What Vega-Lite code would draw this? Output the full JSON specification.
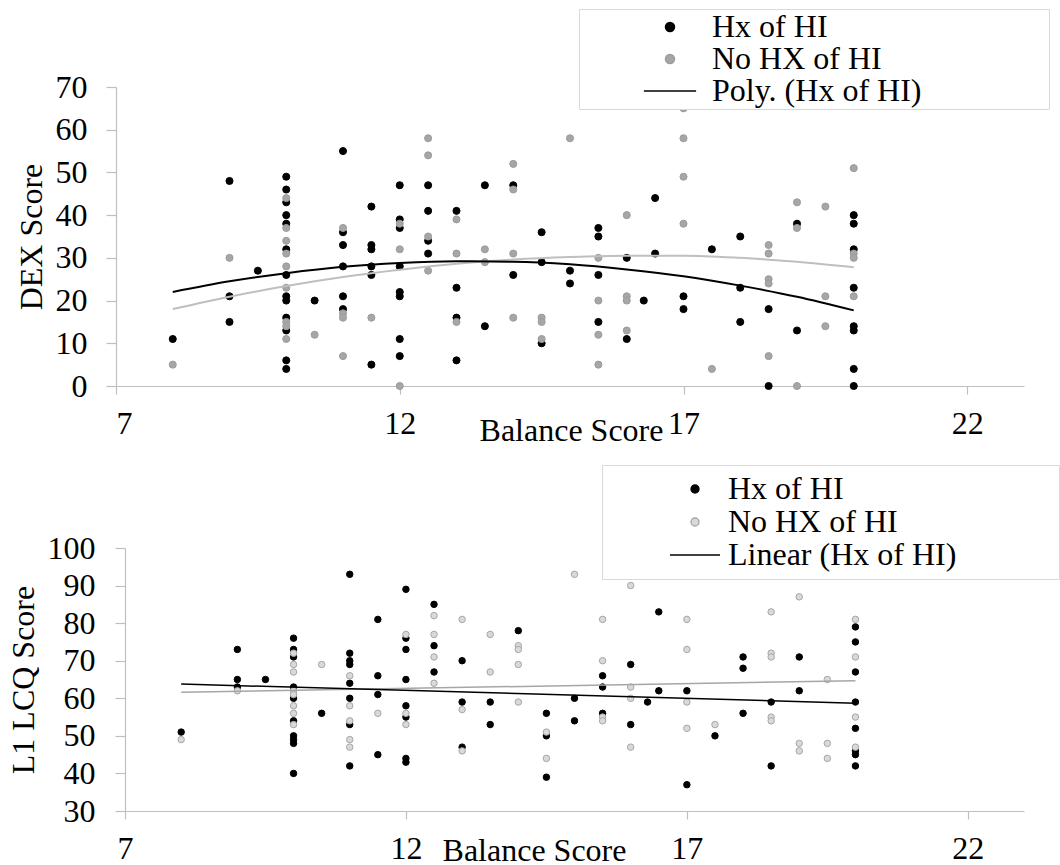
{
  "$schema": "https://vega.github.io/schema/vega-lite/v6.json",
  "background": "white",
  "padding": {"left": 7, "top": 8, "right": 0, "bottom": 0},
  "spacing": 18,
  "config": {
    "view": {"stroke": null},
    "font": "Liberation Serif",
    "axis": {
      "labelFont": "Liberation Serif", "titleFont": "Liberation Serif",
      "labelFontSize": 32, "titleFontSize": 32, "titleFontWeight": "normal",
      "labelColor": "#000000", "titleColor": "#000000",
      "domainColor": "#bfbfbf", "tickColor": "#bfbfbf", "domainWidth": 1.2, "tickWidth": 1.2,
      "grid": false
    },
    "legend": {"labelFont": "Liberation Serif", "labelFontSize": 32, "labelColor": "#000000", "labelLimit": 600}
  },
  "resolve": {
    "scale": {"x": "independent", "y": "independent", "color": "independent", "shape": "independent", "stroke": "independent"},
    "legend": {"color": "independent", "shape": "independent", "stroke": "independent"}
  },
  "datasets": {
    "dex": [
      {"x": 8, "y": 11, "g": "Hx of HI"},
      {"x": 9, "y": 48, "g": "Hx of HI"}, {"x": 9, "y": 21, "g": "Hx of HI"}, {"x": 9, "y": 15, "g": "Hx of HI"},
      {"x": 9.5, "y": 27, "g": "Hx of HI"},
      {"x": 10, "y": 49, "g": "Hx of HI"}, {"x": 10, "y": 46, "g": "Hx of HI"}, {"x": 10, "y": 43, "g": "Hx of HI"}, {"x": 10, "y": 40, "g": "Hx of HI"}, {"x": 10, "y": 38, "g": "Hx of HI"}, {"x": 10, "y": 32, "g": "Hx of HI"}, {"x": 10, "y": 26, "g": "Hx of HI"}, {"x": 10, "y": 21, "g": "Hx of HI"}, {"x": 10, "y": 20, "g": "Hx of HI"}, {"x": 10, "y": 16, "g": "Hx of HI"}, {"x": 10, "y": 13, "g": "Hx of HI"}, {"x": 10, "y": 6, "g": "Hx of HI"}, {"x": 10, "y": 4, "g": "Hx of HI"},
      {"x": 10.5, "y": 20, "g": "Hx of HI"},
      {"x": 11, "y": 55, "g": "Hx of HI"}, {"x": 11, "y": 36, "g": "Hx of HI"}, {"x": 11, "y": 33, "g": "Hx of HI"}, {"x": 11, "y": 28, "g": "Hx of HI"}, {"x": 11, "y": 21, "g": "Hx of HI"}, {"x": 11, "y": 18, "g": "Hx of HI"},
      {"x": 11.5, "y": 42, "g": "Hx of HI"}, {"x": 11.5, "y": 33, "g": "Hx of HI"}, {"x": 11.5, "y": 32, "g": "Hx of HI"}, {"x": 11.5, "y": 28, "g": "Hx of HI"}, {"x": 11.5, "y": 26, "g": "Hx of HI"}, {"x": 11.5, "y": 5, "g": "Hx of HI"},
      {"x": 12, "y": 47, "g": "Hx of HI"}, {"x": 12, "y": 39, "g": "Hx of HI"}, {"x": 12, "y": 37, "g": "Hx of HI"}, {"x": 12, "y": 28, "g": "Hx of HI"}, {"x": 12, "y": 22, "g": "Hx of HI"}, {"x": 12, "y": 21, "g": "Hx of HI"}, {"x": 12, "y": 11, "g": "Hx of HI"}, {"x": 12, "y": 7, "g": "Hx of HI"},
      {"x": 12.5, "y": 47, "g": "Hx of HI"}, {"x": 12.5, "y": 41, "g": "Hx of HI"}, {"x": 12.5, "y": 34, "g": "Hx of HI"}, {"x": 12.5, "y": 31, "g": "Hx of HI"},
      {"x": 13, "y": 41, "g": "Hx of HI"}, {"x": 13, "y": 23, "g": "Hx of HI"}, {"x": 13, "y": 16, "g": "Hx of HI"}, {"x": 13, "y": 6, "g": "Hx of HI"},
      {"x": 13.5, "y": 47, "g": "Hx of HI"}, {"x": 13.5, "y": 14, "g": "Hx of HI"},
      {"x": 14, "y": 47, "g": "Hx of HI"}, {"x": 14, "y": 26, "g": "Hx of HI"},
      {"x": 14.5, "y": 36, "g": "Hx of HI"}, {"x": 14.5, "y": 29, "g": "Hx of HI"}, {"x": 14.5, "y": 10, "g": "Hx of HI"},
      {"x": 15, "y": 27, "g": "Hx of HI"}, {"x": 15, "y": 24, "g": "Hx of HI"},
      {"x": 15.5, "y": 37, "g": "Hx of HI"}, {"x": 15.5, "y": 35, "g": "Hx of HI"}, {"x": 15.5, "y": 26, "g": "Hx of HI"}, {"x": 15.5, "y": 15, "g": "Hx of HI"},
      {"x": 16, "y": 30, "g": "Hx of HI"}, {"x": 16, "y": 11, "g": "Hx of HI"},
      {"x": 16.3, "y": 20, "g": "Hx of HI"},
      {"x": 16.5, "y": 44, "g": "Hx of HI"}, {"x": 16.5, "y": 31, "g": "Hx of HI"},
      {"x": 17, "y": 21, "g": "Hx of HI"}, {"x": 17, "y": 18, "g": "Hx of HI"},
      {"x": 17.5, "y": 32, "g": "Hx of HI"},
      {"x": 18, "y": 35, "g": "Hx of HI"}, {"x": 18, "y": 23, "g": "Hx of HI"}, {"x": 18, "y": 15, "g": "Hx of HI"},
      {"x": 18.5, "y": 18, "g": "Hx of HI"}, {"x": 18.5, "y": 0, "g": "Hx of HI"},
      {"x": 19, "y": 38, "g": "Hx of HI"}, {"x": 19, "y": 13, "g": "Hx of HI"},
      {"x": 20, "y": 40, "g": "Hx of HI"}, {"x": 20, "y": 38, "g": "Hx of HI"}, {"x": 20, "y": 32, "g": "Hx of HI"}, {"x": 20, "y": 23, "g": "Hx of HI"}, {"x": 20, "y": 14, "g": "Hx of HI"}, {"x": 20, "y": 13, "g": "Hx of HI"}, {"x": 20, "y": 4, "g": "Hx of HI"}, {"x": 20, "y": 0, "g": "Hx of HI"},
      {"x": 8, "y": 5, "g": "No HX of HI"},
      {"x": 9, "y": 30, "g": "No HX of HI"},
      {"x": 10, "y": 44, "g": "No HX of HI"}, {"x": 10, "y": 37, "g": "No HX of HI"}, {"x": 10, "y": 34, "g": "No HX of HI"}, {"x": 10, "y": 31, "g": "No HX of HI"}, {"x": 10, "y": 28, "g": "No HX of HI"}, {"x": 10, "y": 23, "g": "No HX of HI"}, {"x": 10, "y": 15, "g": "No HX of HI"}, {"x": 10, "y": 14, "g": "No HX of HI"}, {"x": 10, "y": 11, "g": "No HX of HI"},
      {"x": 10.5, "y": 12, "g": "No HX of HI"},
      {"x": 11, "y": 37, "g": "No HX of HI"}, {"x": 11, "y": 17, "g": "No HX of HI"}, {"x": 11, "y": 16, "g": "No HX of HI"}, {"x": 11, "y": 7, "g": "No HX of HI"},
      {"x": 11.5, "y": 16, "g": "No HX of HI"},
      {"x": 12, "y": 38, "g": "No HX of HI"}, {"x": 12, "y": 32, "g": "No HX of HI"}, {"x": 12, "y": 0, "g": "No HX of HI"},
      {"x": 12.5, "y": 58, "g": "No HX of HI"}, {"x": 12.5, "y": 54, "g": "No HX of HI"}, {"x": 12.5, "y": 35, "g": "No HX of HI"}, {"x": 12.5, "y": 27, "g": "No HX of HI"},
      {"x": 13, "y": 39, "g": "No HX of HI"}, {"x": 13, "y": 31, "g": "No HX of HI"}, {"x": 13, "y": 15, "g": "No HX of HI"},
      {"x": 13.5, "y": 32, "g": "No HX of HI"}, {"x": 13.5, "y": 29, "g": "No HX of HI"},
      {"x": 14, "y": 52, "g": "No HX of HI"}, {"x": 14, "y": 46, "g": "No HX of HI"}, {"x": 14, "y": 31, "g": "No HX of HI"}, {"x": 14, "y": 16, "g": "No HX of HI"},
      {"x": 14.5, "y": 16, "g": "No HX of HI"}, {"x": 14.5, "y": 15, "g": "No HX of HI"}, {"x": 14.5, "y": 11, "g": "No HX of HI"},
      {"x": 15, "y": 58, "g": "No HX of HI"},
      {"x": 15.5, "y": 30, "g": "No HX of HI"}, {"x": 15.5, "y": 20, "g": "No HX of HI"}, {"x": 15.5, "y": 12, "g": "No HX of HI"}, {"x": 15.5, "y": 5, "g": "No HX of HI"},
      {"x": 16, "y": 40, "g": "No HX of HI"}, {"x": 16, "y": 21, "g": "No HX of HI"}, {"x": 16, "y": 20, "g": "No HX of HI"}, {"x": 16, "y": 13, "g": "No HX of HI"},
      {"x": 17, "y": 65, "g": "No HX of HI"}, {"x": 17, "y": 58, "g": "No HX of HI"}, {"x": 17, "y": 49, "g": "No HX of HI"}, {"x": 17, "y": 38, "g": "No HX of HI"},
      {"x": 17.5, "y": 4, "g": "No HX of HI"},
      {"x": 18.5, "y": 33, "g": "No HX of HI"}, {"x": 18.5, "y": 31, "g": "No HX of HI"}, {"x": 18.5, "y": 25, "g": "No HX of HI"}, {"x": 18.5, "y": 24, "g": "No HX of HI"}, {"x": 18.5, "y": 7, "g": "No HX of HI"},
      {"x": 19, "y": 43, "g": "No HX of HI"}, {"x": 19, "y": 37, "g": "No HX of HI"}, {"x": 19, "y": 0, "g": "No HX of HI"},
      {"x": 19.5, "y": 42, "g": "No HX of HI"}, {"x": 19.5, "y": 21, "g": "No HX of HI"}, {"x": 19.5, "y": 14, "g": "No HX of HI"},
      {"x": 20, "y": 51, "g": "No HX of HI"}, {"x": 20, "y": 31, "g": "No HX of HI"}, {"x": 20, "y": 30, "g": "No HX of HI"}, {"x": 20, "y": 21, "g": "No HX of HI"}
    ],
    "dexfit": [
      {"x": 8, "y": 22.0, "s": "Hx"}, {"x": 9, "y": 24.5, "s": "Hx"}, {"x": 10, "y": 26.4, "s": "Hx"}, {"x": 11, "y": 27.9, "s": "Hx"}, {"x": 12, "y": 28.8, "s": "Hx"}, {"x": 13, "y": 29.2, "s": "Hx"}, {"x": 14, "y": 29.1, "s": "Hx"}, {"x": 15, "y": 28.5, "s": "Hx"}, {"x": 16, "y": 27.3, "s": "Hx"}, {"x": 17, "y": 25.7, "s": "Hx"}, {"x": 18, "y": 23.5, "s": "Hx"}, {"x": 19, "y": 20.9, "s": "Hx"}, {"x": 20, "y": 17.7, "s": "Hx"},
      {"x": 8, "y": 18.0, "s": "No"}, {"x": 9, "y": 20.9, "s": "No"}, {"x": 10, "y": 23.4, "s": "No"}, {"x": 11, "y": 25.5, "s": "No"}, {"x": 12, "y": 27.2, "s": "No"}, {"x": 13, "y": 28.6, "s": "No"}, {"x": 14, "y": 29.6, "s": "No"}, {"x": 15, "y": 30.2, "s": "No"}, {"x": 16, "y": 30.5, "s": "No"}, {"x": 17, "y": 30.5, "s": "No"}, {"x": 18, "y": 30.0, "s": "No"}, {"x": 19, "y": 29.1, "s": "No"}, {"x": 20, "y": 27.8, "s": "No"}
    ],
    "lcq": [
      {"x": 8, "y": 51, "g": "Hx of HI"},
      {"x": 9, "y": 73, "g": "Hx of HI"}, {"x": 9, "y": 65, "g": "Hx of HI"}, {"x": 9, "y": 63, "g": "Hx of HI"},
      {"x": 9.5, "y": 65, "g": "Hx of HI"},
      {"x": 10, "y": 76, "g": "Hx of HI"}, {"x": 10, "y": 73, "g": "Hx of HI"}, {"x": 10, "y": 71, "g": "Hx of HI"}, {"x": 10, "y": 63, "g": "Hx of HI"}, {"x": 10, "y": 60, "g": "Hx of HI"}, {"x": 10, "y": 54, "g": "Hx of HI"}, {"x": 10, "y": 50, "g": "Hx of HI"}, {"x": 10, "y": 49, "g": "Hx of HI"}, {"x": 10, "y": 48, "g": "Hx of HI"}, {"x": 10, "y": 40, "g": "Hx of HI"},
      {"x": 10.5, "y": 56, "g": "Hx of HI"},
      {"x": 11, "y": 93, "g": "Hx of HI"}, {"x": 11, "y": 72, "g": "Hx of HI"}, {"x": 11, "y": 70, "g": "Hx of HI"}, {"x": 11, "y": 69, "g": "Hx of HI"}, {"x": 11, "y": 64, "g": "Hx of HI"}, {"x": 11, "y": 60, "g": "Hx of HI"}, {"x": 11, "y": 53, "g": "Hx of HI"}, {"x": 11, "y": 42, "g": "Hx of HI"},
      {"x": 11.5, "y": 81, "g": "Hx of HI"}, {"x": 11.5, "y": 66, "g": "Hx of HI"}, {"x": 11.5, "y": 61, "g": "Hx of HI"}, {"x": 11.5, "y": 45, "g": "Hx of HI"},
      {"x": 12, "y": 89, "g": "Hx of HI"}, {"x": 12, "y": 76, "g": "Hx of HI"}, {"x": 12, "y": 73, "g": "Hx of HI"}, {"x": 12, "y": 65, "g": "Hx of HI"}, {"x": 12, "y": 58, "g": "Hx of HI"}, {"x": 12, "y": 55, "g": "Hx of HI"}, {"x": 12, "y": 44, "g": "Hx of HI"}, {"x": 12, "y": 43, "g": "Hx of HI"},
      {"x": 12.5, "y": 85, "g": "Hx of HI"}, {"x": 12.5, "y": 74, "g": "Hx of HI"}, {"x": 12.5, "y": 67, "g": "Hx of HI"},
      {"x": 13, "y": 70, "g": "Hx of HI"}, {"x": 13, "y": 59, "g": "Hx of HI"}, {"x": 13, "y": 47, "g": "Hx of HI"},
      {"x": 13.5, "y": 59, "g": "Hx of HI"}, {"x": 13.5, "y": 53, "g": "Hx of HI"},
      {"x": 14, "y": 78, "g": "Hx of HI"},
      {"x": 14.5, "y": 56, "g": "Hx of HI"}, {"x": 14.5, "y": 50, "g": "Hx of HI"}, {"x": 14.5, "y": 39, "g": "Hx of HI"},
      {"x": 15, "y": 60, "g": "Hx of HI"}, {"x": 15, "y": 54, "g": "Hx of HI"},
      {"x": 15.5, "y": 66, "g": "Hx of HI"}, {"x": 15.5, "y": 63, "g": "Hx of HI"}, {"x": 15.5, "y": 56, "g": "Hx of HI"},
      {"x": 16, "y": 69, "g": "Hx of HI"}, {"x": 16, "y": 53, "g": "Hx of HI"},
      {"x": 16.3, "y": 59, "g": "Hx of HI"},
      {"x": 16.5, "y": 83, "g": "Hx of HI"}, {"x": 16.5, "y": 62, "g": "Hx of HI"},
      {"x": 17, "y": 62, "g": "Hx of HI"}, {"x": 17, "y": 37, "g": "Hx of HI"},
      {"x": 17.5, "y": 50, "g": "Hx of HI"},
      {"x": 18, "y": 71, "g": "Hx of HI"}, {"x": 18, "y": 68, "g": "Hx of HI"}, {"x": 18, "y": 56, "g": "Hx of HI"},
      {"x": 18.5, "y": 59, "g": "Hx of HI"}, {"x": 18.5, "y": 42, "g": "Hx of HI"},
      {"x": 19, "y": 71, "g": "Hx of HI"}, {"x": 19, "y": 62, "g": "Hx of HI"},
      {"x": 20, "y": 79, "g": "Hx of HI"}, {"x": 20, "y": 75, "g": "Hx of HI"}, {"x": 20, "y": 67, "g": "Hx of HI"}, {"x": 20, "y": 59, "g": "Hx of HI"}, {"x": 20, "y": 52, "g": "Hx of HI"}, {"x": 20, "y": 46, "g": "Hx of HI"}, {"x": 20, "y": 45, "g": "Hx of HI"}, {"x": 20, "y": 42, "g": "Hx of HI"},
      {"x": 8, "y": 49, "g": "No HX of HI"},
      {"x": 9, "y": 62, "g": "No HX of HI"},
      {"x": 10, "y": 72, "g": "No HX of HI"}, {"x": 10, "y": 69, "g": "No HX of HI"}, {"x": 10, "y": 67, "g": "No HX of HI"}, {"x": 10, "y": 62, "g": "No HX of HI"}, {"x": 10, "y": 61, "g": "No HX of HI"}, {"x": 10, "y": 58, "g": "No HX of HI"}, {"x": 10, "y": 56, "g": "No HX of HI"}, {"x": 10, "y": 53, "g": "No HX of HI"},
      {"x": 10.5, "y": 69, "g": "No HX of HI"},
      {"x": 11, "y": 66, "g": "No HX of HI"}, {"x": 11, "y": 58, "g": "No HX of HI"}, {"x": 11, "y": 54, "g": "No HX of HI"}, {"x": 11, "y": 49, "g": "No HX of HI"}, {"x": 11, "y": 47, "g": "No HX of HI"},
      {"x": 11.5, "y": 56, "g": "No HX of HI"},
      {"x": 12, "y": 77, "g": "No HX of HI"}, {"x": 12, "y": 56, "g": "No HX of HI"}, {"x": 12, "y": 53, "g": "No HX of HI"},
      {"x": 12.5, "y": 82, "g": "No HX of HI"}, {"x": 12.5, "y": 77, "g": "No HX of HI"}, {"x": 12.5, "y": 71, "g": "No HX of HI"}, {"x": 12.5, "y": 64, "g": "No HX of HI"},
      {"x": 13, "y": 81, "g": "No HX of HI"}, {"x": 13, "y": 57, "g": "No HX of HI"}, {"x": 13, "y": 46, "g": "No HX of HI"},
      {"x": 13.5, "y": 77, "g": "No HX of HI"}, {"x": 13.5, "y": 67, "g": "No HX of HI"},
      {"x": 14, "y": 74, "g": "No HX of HI"}, {"x": 14, "y": 73, "g": "No HX of HI"}, {"x": 14, "y": 69, "g": "No HX of HI"}, {"x": 14, "y": 59, "g": "No HX of HI"},
      {"x": 14.5, "y": 51, "g": "No HX of HI"}, {"x": 14.5, "y": 44, "g": "No HX of HI"},
      {"x": 15, "y": 93, "g": "No HX of HI"},
      {"x": 15.5, "y": 81, "g": "No HX of HI"}, {"x": 15.5, "y": 70, "g": "No HX of HI"}, {"x": 15.5, "y": 55, "g": "No HX of HI"}, {"x": 15.5, "y": 54, "g": "No HX of HI"},
      {"x": 16, "y": 90, "g": "No HX of HI"}, {"x": 16, "y": 63, "g": "No HX of HI"}, {"x": 16, "y": 60, "g": "No HX of HI"}, {"x": 16, "y": 47, "g": "No HX of HI"},
      {"x": 17, "y": 81, "g": "No HX of HI"}, {"x": 17, "y": 73, "g": "No HX of HI"}, {"x": 17, "y": 59, "g": "No HX of HI"}, {"x": 17, "y": 52, "g": "No HX of HI"},
      {"x": 17.5, "y": 53, "g": "No HX of HI"},
      {"x": 18.5, "y": 83, "g": "No HX of HI"}, {"x": 18.5, "y": 72, "g": "No HX of HI"}, {"x": 18.5, "y": 71, "g": "No HX of HI"}, {"x": 18.5, "y": 55, "g": "No HX of HI"}, {"x": 18.5, "y": 54, "g": "No HX of HI"},
      {"x": 19, "y": 87, "g": "No HX of HI"}, {"x": 19, "y": 48, "g": "No HX of HI"}, {"x": 19, "y": 46, "g": "No HX of HI"},
      {"x": 19.5, "y": 65, "g": "No HX of HI"}, {"x": 19.5, "y": 48, "g": "No HX of HI"}, {"x": 19.5, "y": 44, "g": "No HX of HI"},
      {"x": 20, "y": 81, "g": "No HX of HI"}, {"x": 20, "y": 71, "g": "No HX of HI"}, {"x": 20, "y": 55, "g": "No HX of HI"}, {"x": 20, "y": 47, "g": "No HX of HI"}
    ],
    "lcqfit": [
      {"x": 8, "y": 63.8, "s": "Hx"}, {"x": 20, "y": 58.7, "s": "Hx"},
      {"x": 8, "y": 61.6, "s": "No"}, {"x": 20, "y": 64.7, "s": "No"}
    ]
  },
  "vconcat": [
    {
      "width": 908,
      "height": 299,
      "encoding": {
        "x": {"field": "x", "type": "quantitative",
          "scale": {"domain": [7, 23], "nice": false, "zero": false},
          "axis": {"values": [7, 12, 17, 22], "title": "Balance Score", "tickSize": 8, "labelPadding": 14,
            "titleX": 455, "titleY": 54, "titleAlign": "center", "titleBaseline": "alphabetic"}},
        "y": {"field": "y", "type": "quantitative",
          "scale": {"domain": [0, 70], "nice": false},
          "axis": {"values": [0, 10, 20, 30, 40, 50, 60, 70], "title": "DEX Score", "tickSize": 10, "labelPadding": 19,
            "titleX": -75, "titleY": 149.5, "titleAngle": 270, "titleAlign": "center", "titleBaseline": "alphabetic"}}
      },
      "layer": [
        {
          "data": {"name": "dex"},
          "mark": {"type": "point", "filled": true, "size": 50, "strokeWidth": 1, "opacity": 1},
          "encoding": {
            "color": {"field": "g", "type": "nominal",
              "scale": {"domain": ["Hx of HI", "No HX of HI", "Poly. (Hx of HI)"], "range": ["#000000", "#a6a6a6", "#000000"]},
              "legend": {"orient": "none", "legendX": 463, "legendY": -78,
                "title": "\u00a0", "titleOrient": "right", "titlePadding": 126, "titleFontSize": 2,
                "padding": 2, "rowPadding": -2, "symbolSize": 81, "symbolStrokeWidth": 1.5,
                "symbolOffset": 73, "labelOffset": 26, "labelFontSize": 32, "labelFont": "Liberation Serif", "labelLimit": 600,
                "strokeColor": "#d9d9d9", "fillColor": "#ffffff", "cornerRadius": 0}},
            "stroke": {"field": "g", "type": "nominal",
              "scale": {"domain": ["Hx of HI", "No HX of HI", "Poly. (Hx of HI)"], "range": ["#000000", "#9c9c9c", "#000000"]}},
            "shape": {"field": "g", "type": "nominal",
              "scale": {"domain": ["Hx of HI", "No HX of HI", "Poly. (Hx of HI)"], "range": ["circle", "circle", "M-5.8,0H5.8"]}}
          }
        },
        {
          "data": {"name": "dexfit"},
          "transform": [{"filter": "datum.s === 'No'"}],
          "mark": {"type": "line", "color": "#bfbfbf", "strokeWidth": 2, "interpolate": "monotone"},
          "encoding": {}
        },
        {
          "data": {"name": "dexfit"},
          "transform": [{"filter": "datum.s === 'Hx'"}],
          "mark": {"type": "line", "color": "#000000", "strokeWidth": 2, "interpolate": "monotone"},
          "encoding": {}
        }
      ]
    },
    {
      "width": 908,
      "height": 263,
      "encoding": {
        "x": {"field": "x", "type": "quantitative",
          "scale": {"domain": [6.84, 23], "nice": false, "zero": false},
          "axis": {"values": [7, 12, 17, 22], "title": "Balance Score", "tickSize": 8, "labelPadding": 14,
            "titleX": 418, "titleY": 49, "titleAlign": "center", "titleBaseline": "alphabetic"}},
        "y": {"field": "y", "type": "quantitative",
          "scale": {"domain": [30, 100], "nice": false, "zero": false},
          "axis": {"values": [30, 40, 50, 60, 70, 80, 90, 100], "title": "L1 LCQ Score", "tickSize": 10, "labelPadding": 20, "offset": -9,
            "titleX": -92, "titleY": 131.5, "titleAngle": 270, "titleAlign": "center", "titleBaseline": "alphabetic"}}
      },
      "layer": [
        {
          "data": {"name": "lcq"},
          "mark": {"type": "point", "filled": true, "size": 42, "strokeWidth": 1, "opacity": 1},
          "encoding": {
            "color": {"field": "g", "type": "nominal",
              "scale": {"domain": ["Hx of HI", "No HX of HI", "Linear (Hx of HI)"], "range": ["#000000", "#d9d9d9", "#000000"]},
              "legend": {"orient": "none", "legendX": 486, "legendY": -83,
                "title": "\u00a0", "titleOrient": "right", "titlePadding": 95, "titleFontSize": 2,
                "padding": 8, "rowPadding": 1, "symbolSize": 64, "symbolStrokeWidth": 1.3,
                "symbolOffset": 69, "labelOffset": 17, "labelFontSize": 32, "labelFont": "Liberation Serif", "labelLimit": 600,
                "strokeColor": "#d9d9d9", "fillColor": "#ffffff", "cornerRadius": 0}},
            "stroke": {"field": "g", "type": "nominal",
              "scale": {"domain": ["Hx of HI", "No HX of HI", "Linear (Hx of HI)"], "range": ["#000000", "#a6a6a6", "#000000"]}},
            "shape": {"field": "g", "type": "nominal",
              "scale": {"domain": ["Hx of HI", "No HX of HI", "Linear (Hx of HI)"], "range": ["circle", "circle", "M-6.25,0H6.25"]}}
          }
        },
        {
          "data": {"name": "lcqfit"},
          "transform": [{"filter": "datum.s === 'No'"}],
          "mark": {"type": "line", "color": "#a6a6a6", "strokeWidth": 1.5},
          "encoding": {}
        },
        {
          "data": {"name": "lcqfit"},
          "transform": [{"filter": "datum.s === 'Hx'"}],
          "mark": {"type": "line", "color": "#000000", "strokeWidth": 1.5},
          "encoding": {}
        }
      ]
    }
  ]
}
